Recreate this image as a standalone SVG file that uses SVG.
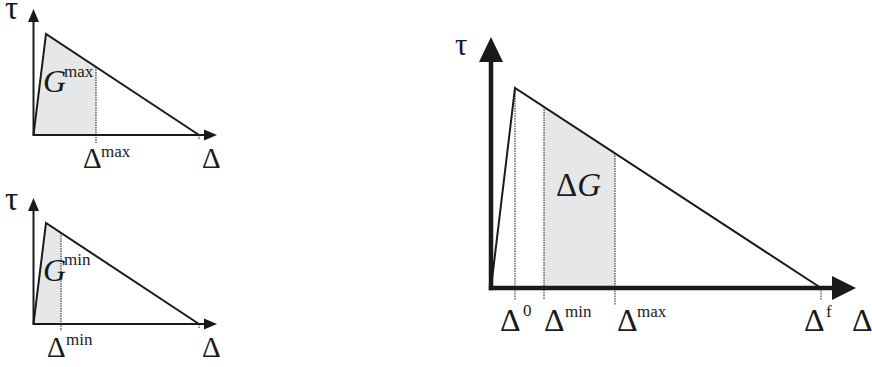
<svg xmlns="http://www.w3.org/2000/svg" width="872" height="367" viewBox="0 0 872 367">
<style>
.fill{fill:#e6e7e8;stroke:none}
.curve{fill:none;stroke:#1a1a1a;stroke-width:2;stroke-linejoin:miter}
.axis{fill:none;stroke:#1a1a1a;stroke-width:2}
.axisB{fill:none;stroke:#1a1a1a;stroke-width:4.5}
.head{fill:#1a1a1a;stroke:none}
.dot{fill:none;stroke:#1a1a1a;stroke-width:1;stroke-dasharray:1.5,1}
text{font-family:"Liberation Serif","Times New Roman",serif;fill:#1a1a1a}
.it{font-style:italic}
</style>
<rect width="872" height="367" fill="#fff"/>

<g id="chart-max">
  <polygon class="fill" points="33.5,135 46,34 96,67 96,135"/>
  <path class="curve" d="M33.5,135 L46,34 L199,135"/>
  <line class="dot" x1="96" y1="67" x2="96" y2="143"/>
  <line class="dot" x1="199" y1="135" x2="199" y2="140"/>
  <line class="axis" x1="33.5" y1="136" x2="33.5" y2="20"/>
  <polygon class="head" points="33.5,9 28,22 39,22"/>
  <line class="axis" x1="33" y1="135" x2="205" y2="135"/>
  <polygon class="head" points="217,135 204,129.5 204,140.5"/>
  <text x="5" y="19" font-size="33">τ</text>
  <text x="43" y="92" font-size="32" class="it">G</text>
  <text x="64" y="77" font-size="17">max</text>
  <text x="83" y="168" font-size="29">Δ</text>
  <text x="101" y="157" font-size="17">max</text>
  <text x="202" y="168" font-size="29">Δ</text>
</g>

<g id="chart-min">
  <polygon class="fill" points="33.5,324 46,223 61,233 61,324"/>
  <path class="curve" d="M33.5,324 L46,223 L199,324"/>
  <line class="dot" x1="61" y1="233" x2="61" y2="331"/>
  <line class="dot" x1="199" y1="324" x2="199" y2="329"/>
  <line class="axis" x1="33.5" y1="325" x2="33.5" y2="209"/>
  <polygon class="head" points="33.5,198 28,211 39,211"/>
  <line class="axis" x1="33" y1="324" x2="205" y2="324"/>
  <polygon class="head" points="217,324 204,318.5 204,329.5"/>
  <text x="5" y="210" font-size="33">τ</text>
  <text x="43" y="281" font-size="32" class="it">G</text>
  <text x="64" y="265" font-size="17">min</text>
  <text x="47" y="357" font-size="29">Δ</text>
  <text x="66" y="345" font-size="17">min</text>
  <text x="202" y="357" font-size="29">Δ</text>
</g>

<g id="chart-main">
  <polygon class="fill" points="544,107 615,153.4 615,288 544,288"/>
  <path class="curve" d="M491,288 L515,88 L821,288"/>
  <line class="dot" x1="515" y1="88" x2="515" y2="300"/>
  <line class="dot" x1="544" y1="107" x2="544" y2="300"/>
  <line class="dot" x1="615" y1="153" x2="615" y2="305"/>
  <line class="dot" x1="821" y1="288" x2="821" y2="300"/>
  <line class="axisB" x1="491" y1="290.2" x2="491" y2="60"/>
  <polygon class="head" points="491,37 479,62 503,62"/>
  <line class="axisB" x1="488.8" y1="288" x2="834" y2="288"/>
  <polygon class="head" points="856,288 832,276 832,300"/>
  <text x="455" y="55" font-size="31">τ</text>
  <text x="556" y="196" font-size="33">Δ<tspan class="it">G</tspan></text>
  <text x="500" y="331" font-size="32">Δ</text>
  <text x="523" y="316" font-size="17">0</text>
  <text x="544" y="331" font-size="32">Δ</text>
  <text x="565" y="317" font-size="17">min</text>
  <text x="617" y="331" font-size="32">Δ</text>
  <text x="637" y="317" font-size="17">max</text>
  <text x="804" y="331" font-size="32">Δ</text>
  <text x="826" y="317" font-size="17">f</text>
  <text x="852" y="331" font-size="32">Δ</text>
</g>
</svg>
